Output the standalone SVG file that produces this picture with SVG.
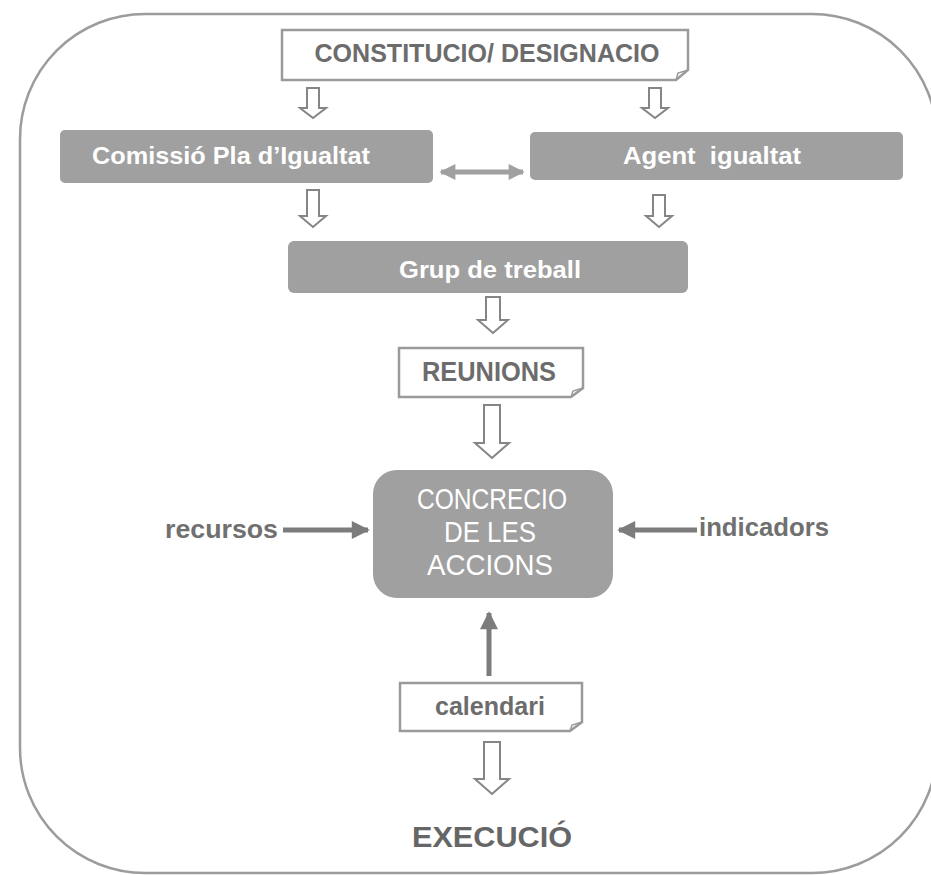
<svg xmlns="http://www.w3.org/2000/svg" width="931" height="875" viewBox="0 0 931 875">
<style>
.frame{fill:none;stroke:#9c9c9c;stroke-width:2.5}
.note{fill:#ffffff;stroke:#9a9a9a;stroke-width:2.5}
.fold{fill:none;stroke:#9a9a9a;stroke-width:1.5}
.solid{fill:#a0a0a0;stroke:none}
.otext{font-family:"Liberation Sans",Arial,sans-serif;font-weight:bold;fill:#6c6c6c;text-anchor:middle}
.wtext{font-family:"Liberation Sans",Arial,sans-serif;font-weight:bold;fill:#ffffff;text-anchor:middle;white-space:pre}
.ntext{font-family:"Liberation Sans",Arial,sans-serif;fill:#ffffff;text-anchor:middle}
.ltext{font-family:"Liberation Sans",Arial,sans-serif;font-weight:bold;fill:#707070}
.btext{font-family:"Liberation Sans",Arial,sans-serif;font-weight:bold;fill:#666666;text-anchor:middle}
.blk{fill:#ffffff;stroke:#858585;stroke-width:2;stroke-linejoin:miter}
.thick{stroke:#7c7c7c;stroke-width:5;fill:none}
.dbl{stroke:#a0a0a0;stroke-width:5;fill:none}
</style>
<defs>
<marker id="ah" viewBox="0 0 10 10" refX="9" refY="5" markerWidth="4" markerHeight="3.6" orient="auto-start-reverse" markerUnits="strokeWidth">
<path d="M0,0 L10,5 L0,10 Z" fill="#7c7c7c"/>
</marker>
<marker id="ahl" viewBox="0 0 10 10" refX="9" refY="5" markerWidth="3.6" markerHeight="3.2" orient="auto-start-reverse" markerUnits="strokeWidth">
<path d="M0,0 L10,5 L0,10 Z" fill="#a0a0a0"/>
</marker>
</defs>

<rect class="frame" x="20" y="14" width="917" height="859" rx="125" ry="125"/>

<g id="constitucio">
<path class="note" d="M282,30 H688 V70 L676,80 H282 Z"/>
<path class="fold" d="M676,80 L678,73 L688,70"/>
<text class="otext" x="487" y="62" font-size="26" textLength="345" lengthAdjust="spacingAndGlyphs">CONSTITUCIO/ DESIGNACIO</text>
</g>

<g id="comissio">
<rect class="solid" x="60" y="130" width="373" height="53" rx="5"/>
<text class="wtext" x="231" y="164" font-size="24" textLength="278" lengthAdjust="spacingAndGlyphs">Comissió Pla d’Igualtat</text>
</g>

<g id="agent">
<rect class="solid" x="530" y="132" width="373" height="48" rx="5"/>
<text class="wtext" x="712" y="164" font-size="24" textLength="178" lengthAdjust="spacingAndGlyphs" xml:space="preserve">Agent  igualtat</text>
</g>

<g id="grup">
<rect class="solid" x="288" y="241" width="400" height="52" rx="6"/>
<text class="wtext" x="490" y="278" font-size="24" textLength="182" lengthAdjust="spacingAndGlyphs">Grup de treball</text>
</g>

<g id="reunions">
<path class="note" d="M399,348 H583 V388 L571,397 H399 Z"/>
<path class="fold" d="M571,397 L573,391 L583,388"/>
<text class="otext" x="489" y="381" font-size="27" textLength="134" lengthAdjust="spacingAndGlyphs">REUNIONS</text>
</g>

<g id="concrecio">
<rect class="solid" x="373" y="470" width="240" height="128" rx="24"/>
<text class="ntext" x="492" y="509" font-size="29" textLength="150" lengthAdjust="spacingAndGlyphs">CONCRECIO</text>
<text class="ntext" x="490" y="542" font-size="29" textLength="92" lengthAdjust="spacingAndGlyphs">DE LES</text>
<text class="ntext" x="490" y="575" font-size="29" textLength="126" lengthAdjust="spacingAndGlyphs">ACCIONS</text>
</g>

<g id="recursos">
<text class="ltext" x="165" y="538" font-size="25" textLength="113" lengthAdjust="spacingAndGlyphs">recursos</text>
</g>

<g id="indicadors">
<text class="ltext" x="699" y="536" font-size="25" textLength="130" lengthAdjust="spacingAndGlyphs">indicadors</text>
</g>

<g id="calendari">
<path class="note" d="M400,683 H582 V722 L570,731 H400 Z"/>
<path class="fold" d="M570,731 L572,725 L582,722"/>
<text class="otext" x="490" y="715" font-size="25" textLength="110" lengthAdjust="spacingAndGlyphs">calendari</text>
</g>

<g id="execucio">
<text class="btext" x="492" y="847" font-size="29" textLength="160" lengthAdjust="spacingAndGlyphs">EXECUCIÓ</text>
</g>

<g id="connectors">
<path class="blk" d="M307,88 H319 V108 H326 L313,118 L300,108 H307 Z"/>
<path class="blk" d="M649,88 H661 V108 H668 L655,118 L642,108 H649 Z"/>
<path class="blk" d="M307,190 H319 V216 H326 L313,227 L300,216 H307 Z"/>
<path class="blk" d="M653,195 H665 V216 H672 L659,227 L646,216 H653 Z"/>
<path class="blk" d="M486,297 H500 V320 H508 L493,333 L478,320 H486 Z"/>
<path class="blk" d="M484,405 H500 V443 H509 L492,458 L475,443 H484 Z"/>
<path class="blk" d="M484,742 H500 V779 H509 L492,794 L475,779 H484 Z"/>
<line class="dbl" x1="441" y1="172" x2="523" y2="172" marker-start="url(#ahl)" marker-end="url(#ahl)"/>
<line class="thick" x1="283" y1="530" x2="368" y2="530" marker-end="url(#ah)"/>
<line class="thick" x1="697" y1="530" x2="619" y2="530" marker-end="url(#ah)"/>
<line class="thick" x1="489" y1="676" x2="489" y2="613" marker-end="url(#ah)"/>
</g>
</svg>
